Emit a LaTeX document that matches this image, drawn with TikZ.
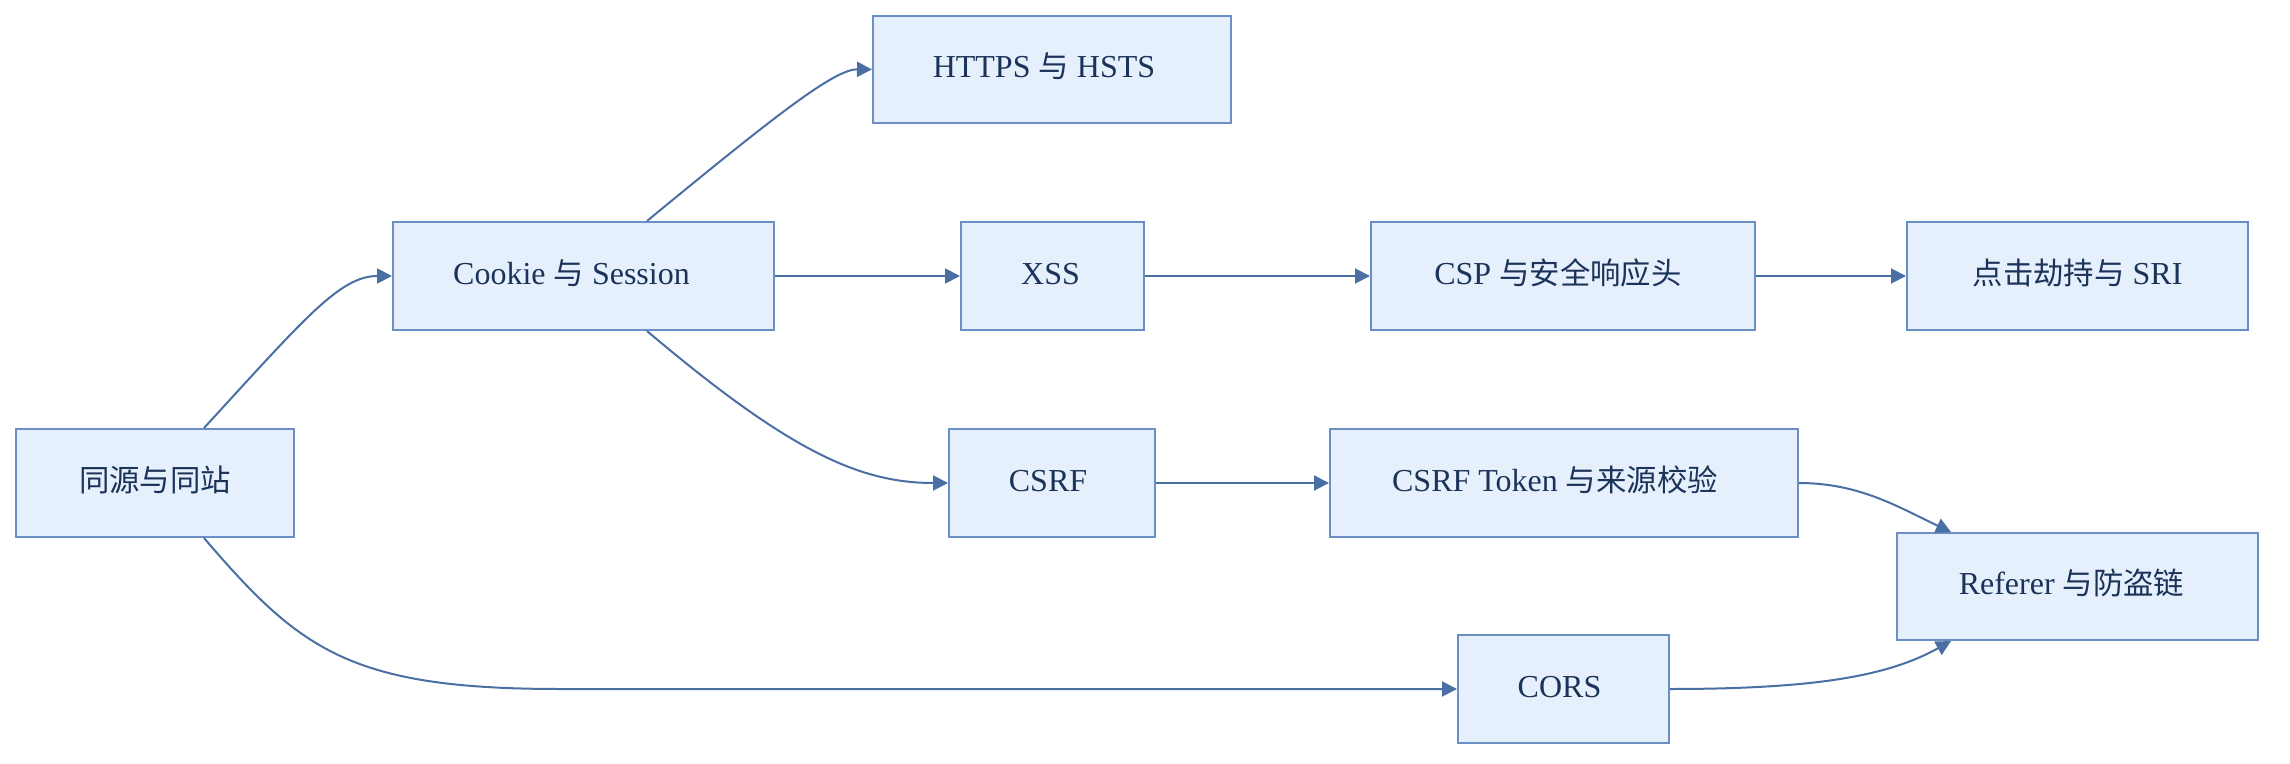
\documentclass[tikz,border=0pt]{standalone}
\usepackage{fontspec}
\setmainfont{Liberation Serif}
\newfontfamily\cjk{Noto Sans CJK SC}[Scale=0.95]
\usetikzlibrary{arrows.meta,calc}
\definecolor{boxfill}{HTML}{E6F0FD}
\definecolor{boxline}{HTML}{6A8FC4}
\definecolor{arrowc}{HTML}{4A6FA3}
\definecolor{txtc}{HTML}{1B3358}
\begin{document}
\begin{tikzpicture}[x=0.5pt,y=-0.5pt,
  box/.style={draw=boxline,fill=boxfill,line width=1pt,inner sep=0pt,
    minimum height=54pt,text=txtc,text height=12pt,text depth=3.6pt,
    font=\fontsize{16}{19}\selectfont},
  conn/.style={draw=arrowc,line width=1pt,-{Triangle[length=7.5pt,width=7.5pt]}}]
\useasboundingbox (0,0) rectangle (2290,764);
\node[box,minimum width=139pt] (same) at (155,483) {{\cjk 同源与同站}};
\node[box,minimum width=190.5pt] (cookie) at (583.5,276) {Cookie {\cjk 与} Session\kern12pt};
\node[box,minimum width=179pt,minimum height=53.5pt] (https) at (1052,69.5) {HTTPS {\cjk 与} HSTS\kern8pt};
\node[box,minimum width=91.5pt] (xss) at (1052.5,276) {XSS\kern2pt};
\node[box,minimum width=192pt] (csp) at (1563,276) {CSP {\cjk 与安全响应头}\kern5pt};
\node[box,minimum width=170.5pt] (click) at (2077.5,276) {{\cjk 点击劫持与} SRI};
\node[box,minimum width=103pt] (csrf) at (1052,483) {CSRF\kern4pt};
\node[box,minimum width=234pt] (token) at (1564,483) {CSRF Token {\cjk 与来源校验}\kern9pt};
\node[box,minimum width=180.5pt,minimum height=53.5pt] (referer) at (2077.5,586.5) {Referer {\cjk 与防盗链}\kern6pt};
\node[box,minimum width=105.5pt] (cors) at (1563.5,689) {CORS\kern4pt};

\coordinate (sameTop) at ($(same.north)+(49,0)$);
\coordinate (sameBot) at ($(same.south)+(49,0)$);
\coordinate (cookieTop) at ($(cookie.north)+(63.5,0)$);
\coordinate (cookieBot) at ($(cookie.south)+(63.5,0)$);
\coordinate (refTop) at ($(referer.north)+(-126.5,0)$);
\coordinate (refBot) at ($(referer.south)+(-126.5,0)$);

\draw[conn] (sameTop) .. controls (305,318) and (340,276) .. (cookie.west);
\draw[conn] (sameBot) .. controls (300,650) and (350,689) .. (560,689) -- (cors.west);
\draw[conn] (cookieTop) .. controls (777,114) and (835,69) .. (https.west);
\draw[conn] (cookie.east) -- (xss.west);
\draw[conn] (cookieBot) .. controls (790,452) and (860,483) .. (csrf.west);
\draw[conn] (xss.east) -- (csp.west);
\draw[conn] (csp.east) -- (click.west);
\draw[conn] (csrf.east) -- (token.west);
\draw[conn] (token.east) .. controls (1860,483) and (1900,508) .. (refTop);
\draw[conn] (cors.east) .. controls (1820,689) and (1890,675) .. (refBot);
\end{tikzpicture}
\end{document}
